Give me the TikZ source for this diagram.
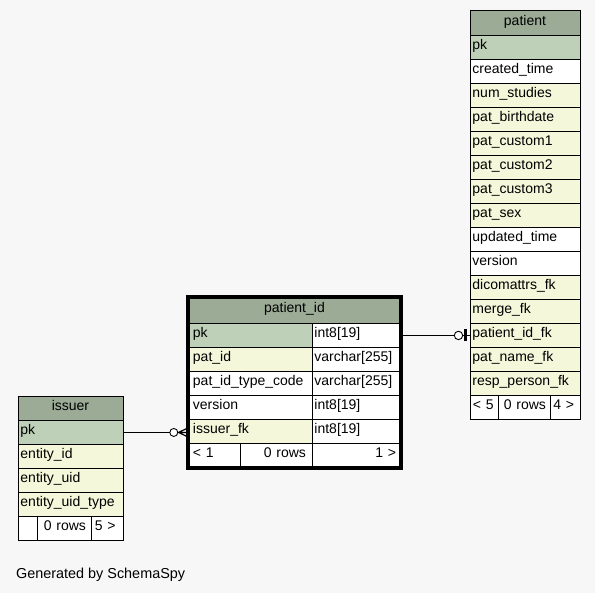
\documentclass[tikz,border=0pt]{standalone}
\usepackage{fontspec}
\setmainfont{Liberation Sans}
\usetikzlibrary{calc}

\definecolor{bgc}{HTML}{F7F7F7}
\definecolor{hdrc}{HTML}{9BAB96}
\definecolor{pkc}{HTML}{BED1B8}
\definecolor{fkc}{HTML}{F4F7DA}
\newcommand{\tabfont}{\fontsize{14}{16}\selectfont}

\tikzset{
  cell/.style={draw=black, line width=0.9pt, rectangle, inner xsep=2.5pt, inner ysep=0pt,
    minimum height=24pt, text height=9pt, text depth=4pt, anchor=north west,
    font=\tabfont, align=left, fill=white},
  hdr/.style={cell, fill=hdrc, align=center},
  keycell/.style={cell, fill=pkc},
  fkcell/.style={cell, fill=fkc},
  patcol/.style={text width=105pt},
  isscol/.style={text width=100pt},
  pidl/.style={inner xsep=4.5pt, text width=114.5pt},
  pidr/.style={text width=83.5pt},
  conn/.style={draw=black, line width=0.9pt},
}

\begin{document}
\begin{tikzpicture}[x=1pt, y=-1pt]
\fill[bgc] (0,0) rectangle (595,593);
\useasboundingbox (0,0) rectangle (595,593);

% ---- table: patient ----
\node[hdr, text width=105pt, minimum height=25pt] (pat-h) at (469.5,10) {patient};
\node[keycell, patcol] (pat-pk)      at (469.5,35)  {pk};
\node[cell,    patcol] (pat-ctime)   at (469.5,59)  {created\_time};
\node[fkcell,  patcol] (pat-nstud)   at (469.5,83)  {num\_studies};
\node[fkcell,  patcol] (pat-bdate)   at (469.5,107) {pat\_birthdate};
\node[fkcell,  patcol] (pat-c1)      at (469.5,131) {pat\_custom1};
\node[fkcell,  patcol] (pat-c2)      at (469.5,155) {pat\_custom2};
\node[fkcell,  patcol] (pat-c3)      at (469.5,179) {pat\_custom3};
\node[fkcell,  patcol] (pat-sex)     at (469.5,203) {pat\_sex};
\node[cell,    patcol] (pat-utime)   at (469.5,227) {updated\_time};
\node[cell,    patcol] (pat-ver)     at (469.5,251) {version};
\node[fkcell,  patcol] (pat-dicom)   at (469.5,275) {dicomattrs\_fk};
\node[fkcell,  patcol] (pat-merge)   at (469.5,299) {merge\_fk};
\node[fkcell,  patcol] (pat-pidfk)   at (469.5,323) {patient\_id\_fk};
\node[fkcell,  patcol] (pat-namefk)  at (469.5,347) {pat\_name\_fk};
\node[fkcell,  patcol] (pat-respfk)  at (469.5,371) {resp\_person\_fk};
\node[cell, inner xsep=3pt, text width=22pt]   (pat-f1) at (469.5,395) {< 5};
\node[cell, inner xsep=4.5pt, text width=43.5pt, align=right] (pat-f2) at (497.5,395) {0 rows};
\node[cell, inner xsep=3pt, text width=23.5pt] (pat-f3) at (550,395) {4 >};

% ---- table: patient_id ----
\node[hdr, text width=207pt, minimum height=26pt] (pid-h) at (188,297) {patient\_id};
\node[keycell, pidl] (pid-pk)     at (188,323)   {pk};
\node[cell,    pidr] (pid-pk-t)   at (311.5,323) {int8[19]};
\node[fkcell,  pidl] (pid-patid)  at (188,347)   {pat\_id};
\node[cell,    pidr] (pid-patid-t) at (311.5,347) {varchar[255]};
\node[cell,    pidl] (pid-tcode)  at (188,371)   {pat\_id\_type\_code};
\node[cell,    pidr] (pid-tcode-t) at (311.5,371) {varchar[255]};
\node[cell,    pidl] (pid-ver)    at (188,395)   {version};
\node[cell,    pidr] (pid-ver-t)  at (311.5,395) {int8[19]};
\node[fkcell,  pidl] (pid-ifk)    at (188,419)   {issuer\_fk};
\node[cell,    pidr] (pid-ifk-t)  at (311.5,419) {int8[19]};
\node[cell, inner xsep=4.5pt, text width=43pt] (pid-f1) at (188,443) {< 1};
\node[cell, inner xsep=6pt, text width=59.5pt, align=right] (pid-f2) at (240,443) {0 rows};
\node[cell, inner xsep=4.5pt, text width=79.5pt, align=right] (pid-f3) at (311.5,443) {1 >};
\draw[line width=4pt] (pid-h.north west) rectangle (pid-f3.south east);

% ---- table: issuer ----
\node[hdr, text width=100pt] (iss-h) at (17.5,396) {issuer};
\node[keycell, isscol] (iss-pk)    at (17.5,420) {pk};
\node[fkcell,  isscol] (iss-eid)   at (17.5,444) {entity\_id};
\node[fkcell,  isscol] (iss-euid)  at (17.5,468) {entity\_uid};
\node[fkcell,  isscol] (iss-etype) at (17.5,492) {entity\_uid\_type};
\node[cell, text width=14.5pt] (iss-f1) at (17.5,516) {};
\node[cell, inner xsep=5pt, text width=43.5pt, align=right] (iss-f2) at (37,516) {0 rows};
\node[cell, inner xsep=4pt, text width=24pt] (iss-f3) at (90.5,516) {5 >};

% ---- relation: patient_id.pk -> patient.patient_id_fk (zero or one) ----
\draw[conn] (pid-pk-t.east) -- (pat-pidfk.west);
\coordinate (odot-a) at ($(pat-pidfk.west)+(-11pt,0)$);
\draw[conn, fill=white] (odot-a) circle (4.2pt);
\draw[line width=3pt] ($(pat-pidfk.west)+(-4pt,-6pt)$) -- ($(pat-pidfk.west)+(-4pt,6pt)$);

% ---- relation: issuer.pk -> patient_id.issuer_fk (zero or many) ----
\coordinate (crow-end) at (iss-pk.east -| pid-ifk.west);
\draw[conn] (iss-pk.east) -- (crow-end);
\coordinate (odot-b) at ($(crow-end)+(-14.2pt,0)$);
\coordinate (crow-tip) at ($(crow-end)+(-9.5pt,0)$);
\draw[conn, fill=white] (odot-b) circle (4pt);
\draw[conn, line width=1.2pt] (crow-tip) -- ($(crow-end)+(-1.5pt,-3.8pt)$)
  (crow-tip) -- ($(crow-end)+(-1.5pt,0)$)
  (crow-tip) -- ($(crow-end)+(-1.5pt,3.8pt)$);

\node[anchor=base west, inner sep=0pt, font=\fontsize{14.4}{17}\selectfont] (credit) at (16,578.3) {Generated by SchemaSpy};
\end{tikzpicture}
\end{document}
